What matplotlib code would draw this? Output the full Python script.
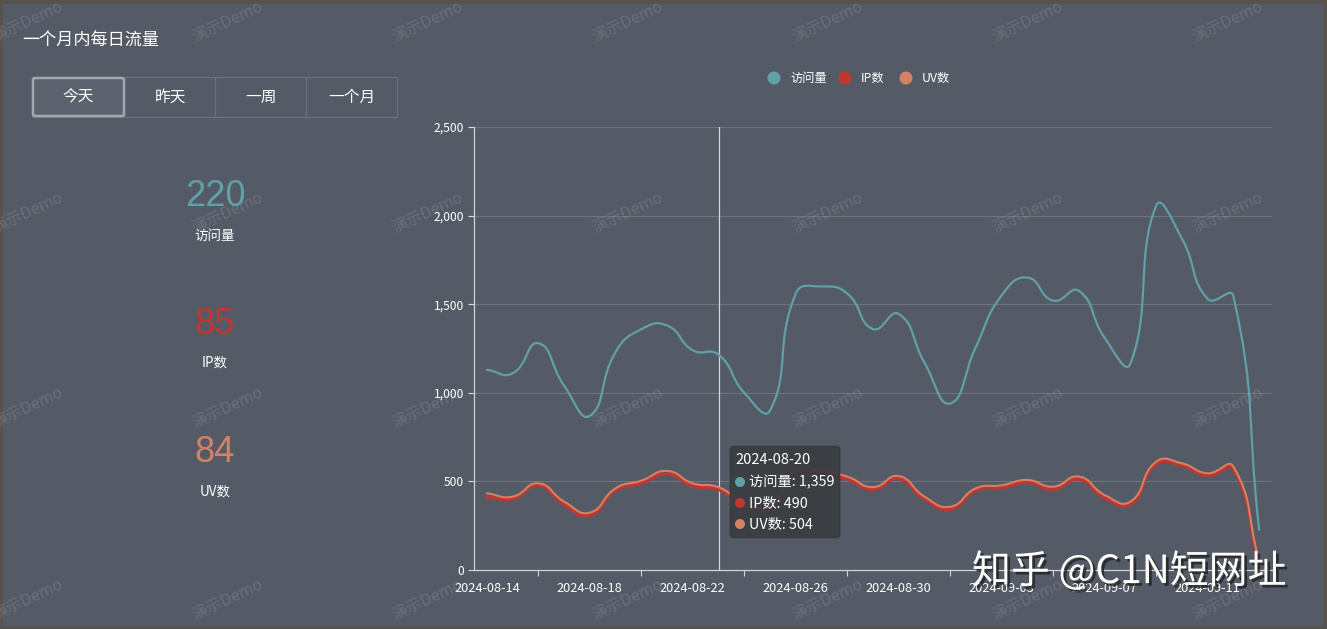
import numpy as np
import matplotlib
matplotlib.use('Agg')
import matplotlib.pyplot as plt
from matplotlib.path import Path
from matplotlib.patches import PathPatch, Rectangle, Circle, FancyBboxPatch
import matplotlib.patheffects as pe

plt.rcParams['font.family'] = ['Noto Sans CJK SC', 'DejaVu Sans']

# ---- data ----
dates = ['2024-08-14', '2024-08-15', '2024-08-16', '2024-08-17', '2024-08-18', '2024-08-19',
         '2024-08-20', '2024-08-21', '2024-08-22', '2024-08-23', '2024-08-24', '2024-08-25',
         '2024-08-26', '2024-08-27', '2024-08-28', '2024-08-29', '2024-08-30', '2024-08-31',
         '2024-09-01', '2024-09-02', '2024-09-03', '2024-09-04', '2024-09-05', '2024-09-06',
         '2024-09-07', '2024-09-08', '2024-09-09', '2024-09-10', '2024-09-11', '2024-09-12',
         '2024-09-13']
visits = [1130, 1110, 1280, 1040, 870, 1230, 1359, 1380, 1240, 1215, 1000, 900, 1560, 1600,
          1560, 1360, 1445, 1170, 940, 1260, 1550, 1650, 1520, 1575, 1310, 1165, 2055, 1870,
          1530, 1545, 226]
uv = [433, 414, 489, 386, 324, 461, 504, 559, 489, 467, 380, 355, 564, 560, 527, 468, 530,
      414, 357, 461, 478, 508, 470, 527, 423, 386, 611, 602, 546, 583, 50]
ip = [412, 402, 478, 370, 310, 450, 490, 542, 474, 454, 366, 342, 548, 546, 512, 455, 515,
      400, 344, 448, 464, 494, 456, 512, 408, 371, 597, 589, 532, 568, 30]

series_names = ['访问量', 'IP数', 'UV数']
today_stats = [220, 85, 84]
buttons = ['今天', '昨天', '一周', '一个月']
tip_day = 6
pointer_day = 9

BG = '#545b66'
C_VIS, C_IP, C_UV = '#61a0a8', '#c23531', '#d48265'
W, H = 1327, 629

# pixel scale of the plot area (px per category / px per unit)
SX = (1272 - 474) / len(dates)
SY = (570 - 127) / 2500.0


def smooth_path(ys, k=0.5):
    # echarts-like bezier smoothing, done in pixel space
    px = np.arange(len(ys)) * SX
    py = np.asarray(ys, float) * SY
    n = len(px)
    cin, cout = [], []
    for i in range(n):
        a, b = max(i - 1, 0), min(i + 1, n - 1)
        vx, vy = (px[b] - px[a]) * k, (py[b] - py[a]) * k
        d0 = np.hypot(px[i] - px[a], py[i] - py[a])
        d1 = np.hypot(px[b] - px[i], py[b] - py[i])
        r = d1 / (d0 + d1) if d0 + d1 > 0 else 0.5
        cin.append((px[i] - vx * (1 - r), py[i] - vy * (1 - r)))
        cout.append((px[i] + vx * r, py[i] + vy * r))
    verts = [(px[0], py[0])]
    codes = [Path.MOVETO]
    for i in range(n - 1):
        verts += [cout[i], cin[i + 1], (px[i + 1], py[i + 1])]
        codes += [Path.CURVE4] * 3
    verts = [(x / SX, y / SY) for x, y in verts]
    return Path(verts, codes)


fig = plt.figure(figsize=(W / 100, H / 100), dpi=100, facecolor=BG)

# ---- line chart ----
ax = fig.add_axes([474 / W, (H - 570) / H, (1272 - 474) / W, (570 - 127) / H])
ax.set_facecolor(BG)
ax.set_xlim(-0.5, len(dates) - 0.5)
ax.set_ylim(0, 2500)
ax.set_yticks(np.arange(0, 2501, 500))
ax.set_yticklabels([f'{v:,}' for v in range(0, 2501, 500)])
ax.grid(axis='y', color='#6d747e', linewidth=0.8)
ax.set_axisbelow(True)
for s in ['top', 'right']:
    ax.spines[s].set_visible(False)
for s in ['left', 'bottom']:
    ax.spines[s].set_color('#d0d3d8')
    ax.spines[s].set_linewidth(0.9)
ax.tick_params(axis='y', colors='#d8dadd', labelcolor='white', labelsize=8.7, length=4, width=0.8, pad=3)
ax.set_xticks(range(2, len(dates), 4))
ax.set_xticklabels([])
ax.tick_params(axis='x', colors='#d0d3d8', length=4, width=0.8)
for i in range(0, len(dates), 4):
    ax.text(i, -0.026, dates[i], transform=ax.get_xaxis_transform(), ha='center', va='top',
            color='white', fontsize=9.2)

ax.axvline(pointer_day, color='#d6d8dc', linewidth=0.9, zorder=1)

for vals, col, lw in [(visits, C_VIS, 1.6), (ip, C_IP, 2.3), (uv, C_UV, 1.5)]:
    ax.add_patch(PathPatch(smooth_path(vals), facecolor='none', edgecolor=col, linewidth=lw,
                           zorder=3, capstyle='round'))

# ---- overlay in pixel coordinates ----
ov = fig.add_axes([0, 0, 1, 1], zorder=5)
ov.set_xlim(0, W)
ov.set_ylim(H, 0)
ov.axis('off')
ov.patch.set_visible(False)

# frame strips
for rect in [(0, 0, W, 4), (0, 0, 3, H), (W - 4, 0, 4, H), (0, H - 3, W, 3)]:
    ov.add_patch(Rectangle(rect[:2], rect[2], rect[3], color='#58524f', lw=0))

# watermarks
for yy in [22, 213, 408, 600]:
    for xx in range(28, W, 200):
        ov.text(xx, yy, '演示Demo', color='white', alpha=0.13, fontsize=11.5, rotation=25,
                ha='center', va='center')

ov.text(22, 41, '一个月内每日流量', color='white', fontsize=12.3, ha='left', va='center')

# button group
bx = [32, 125, 215, 306, 397]
ov.add_patch(Rectangle((32, 77), 365, 40, facecolor='none', edgecolor='#6c727c', lw=0.9))
for i in range(1, 4):
    ov.plot([bx[i], bx[i]], [77, 117], color='#6c727c', lw=0.9)
ov.add_patch(FancyBboxPatch((33, 78), 91, 38, boxstyle='round,pad=0,rounding_size=2',
                            facecolor='#5c636e', edgecolor='#a4a9b0', lw=1.8))
for i, b in enumerate(buttons):
    ov.text((bx[i] + bx[i + 1]) / 2, 97, b, color='white', fontsize=11.3, ha='center', va='center')

# today's stats
for val, name, col, ya, yb in zip(today_stats, series_names, [C_VIS, C_IP, C_UV],
                                  [197, 325, 453], [236, 363, 492]):
    ov.text(215, ya, str(val), color=col, fontsize=26, ha='center', va='center',
            family='Liberation Sans')
    ov.text(215, yb, name, color='white', fontsize=9.7, ha='center', va='center')

# legend
for cx, name, col in zip([774, 845, 906], series_names, [C_VIS, C_IP, C_UV]):
    ov.add_patch(Circle((cx, 78), 6.5, color=col, lw=0))
    ov.text(cx + 16, 78, name, color='white', fontsize=8.8, ha='left', va='center')

# tooltip
ov.add_patch(FancyBboxPatch((730, 446), 110, 92, boxstyle='round,pad=0,rounding_size=4',
                            facecolor='#393c40', edgecolor='#333', lw=0.5, alpha=0.92))
ov.text(735, 460, dates[tip_day], color='white', fontsize=10.5, ha='left', va='center')
for k, (name, vals, col) in enumerate(zip(series_names, [visits, ip, uv], [C_VIS, C_IP, C_UV])):
    yy = 482 + k * 21
    ov.add_patch(Circle((740, yy), 5, color=col, lw=0))
    ov.text(749, yy, f'{name}: {vals[tip_day]:,}', color='white', fontsize=10.3,
            ha='left', va='center')

# site watermark
ov.text(972, 572, '知乎 @C1N短网址', color='white', fontsize=28, ha='left', va='center',
        path_effects=[pe.withSimplePatchShadow(offset=(2, -2), shadow_rgbFace='#222222', alpha=0.8)])

fig.savefig('out.png', dpi=100, facecolor=BG)
